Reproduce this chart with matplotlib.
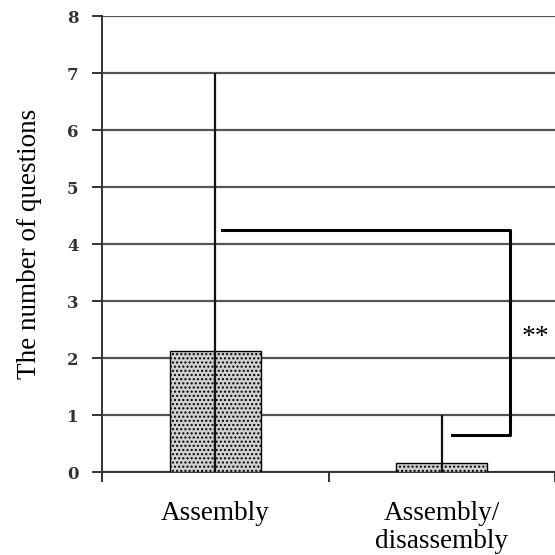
"""Bar chart: number of questions by task type, with range lines and significance bracket."""

import matplotlib
matplotlib.use("Agg")
import matplotlib.pyplot as plt

categories = ["Assembly", "Assembly/\ndisassembly"]
means = [2.13, 0.15]
mins = [0, 0]
maxs = [7, 1]
yticks = [0, 1, 2, 3, 4, 5, 6, 7, 8]

serif = ["Liberation Serif", "DejaVu Serif"]
plt.rcParams["hatch.color"] = "#808080"

fig = plt.figure(figsize=(5.55, 5.55), dpi=100)
ax = fig.add_axes([0.184, 0.1495, 0.816, 0.8215])

x = list(range(len(categories)))
ax.bar(x, means, width=0.4, color="#d0d0d0", edgecolor="black", linewidth=1.0,
       hatch="....", zorder=3)

# range lines from min to max, no caps
lower = [m - lo for m, lo in zip(means, mins)]
upper = [hi - m for m, hi in zip(means, maxs)]
ax.errorbar(x, means, yerr=[lower, upper], fmt="none", ecolor="#111111",
            elinewidth=1.6, capsize=0, zorder=4)

ax.set_xlim(-0.5, 1.5)
ax.set_ylim(0, 8)
ax.set_yticks(yticks)
ax.yaxis.grid(True, color="#555555", linewidth=1.6, zorder=0)
ax.set_axisbelow(True)

for side in ["top", "right"]:
    ax.spines[side].set_visible(False)
for side in ["left", "bottom"]:
    ax.spines[side].set_color("#333333")
    ax.spines[side].set_linewidth(1.4)

ax.set_xticks([-0.5, 0.5, 1.5])
ax.set_xticklabels([])
ax.tick_params(axis="x", length=7, width=1.4, color="#333333", direction="out")
ax.tick_params(axis="y", length=7, width=1.4, color="#333333", direction="out", pad=10)
for lbl in ax.get_yticklabels():
    lbl.set_fontfamily(["DejaVu Serif"])
    lbl.set_fontweight("heavy")
    lbl.set_fontsize(12)
    lbl.set_color("#333333")

for xi, name in zip(x, categories):
    ax.text(xi, -0.5, name, ha="center", va="top", fontsize=19.5,
            family=serif, linespacing=1.2)

ax.set_ylabel("The number of questions", fontsize=19.5, family=serif, labelpad=18)

# significance bracket
bx = [0.03, 1.30, 1.30, 1.045]
by = [4.25, 4.25, 0.65, 0.65]
ax.plot(bx, by, color="black", linewidth=2.2, zorder=5, clip_on=False)
ax.text(1.416, 2.36, "**", fontsize=20, family=serif, ha="center", va="center")

fig.savefig("out.png", dpi=100)
